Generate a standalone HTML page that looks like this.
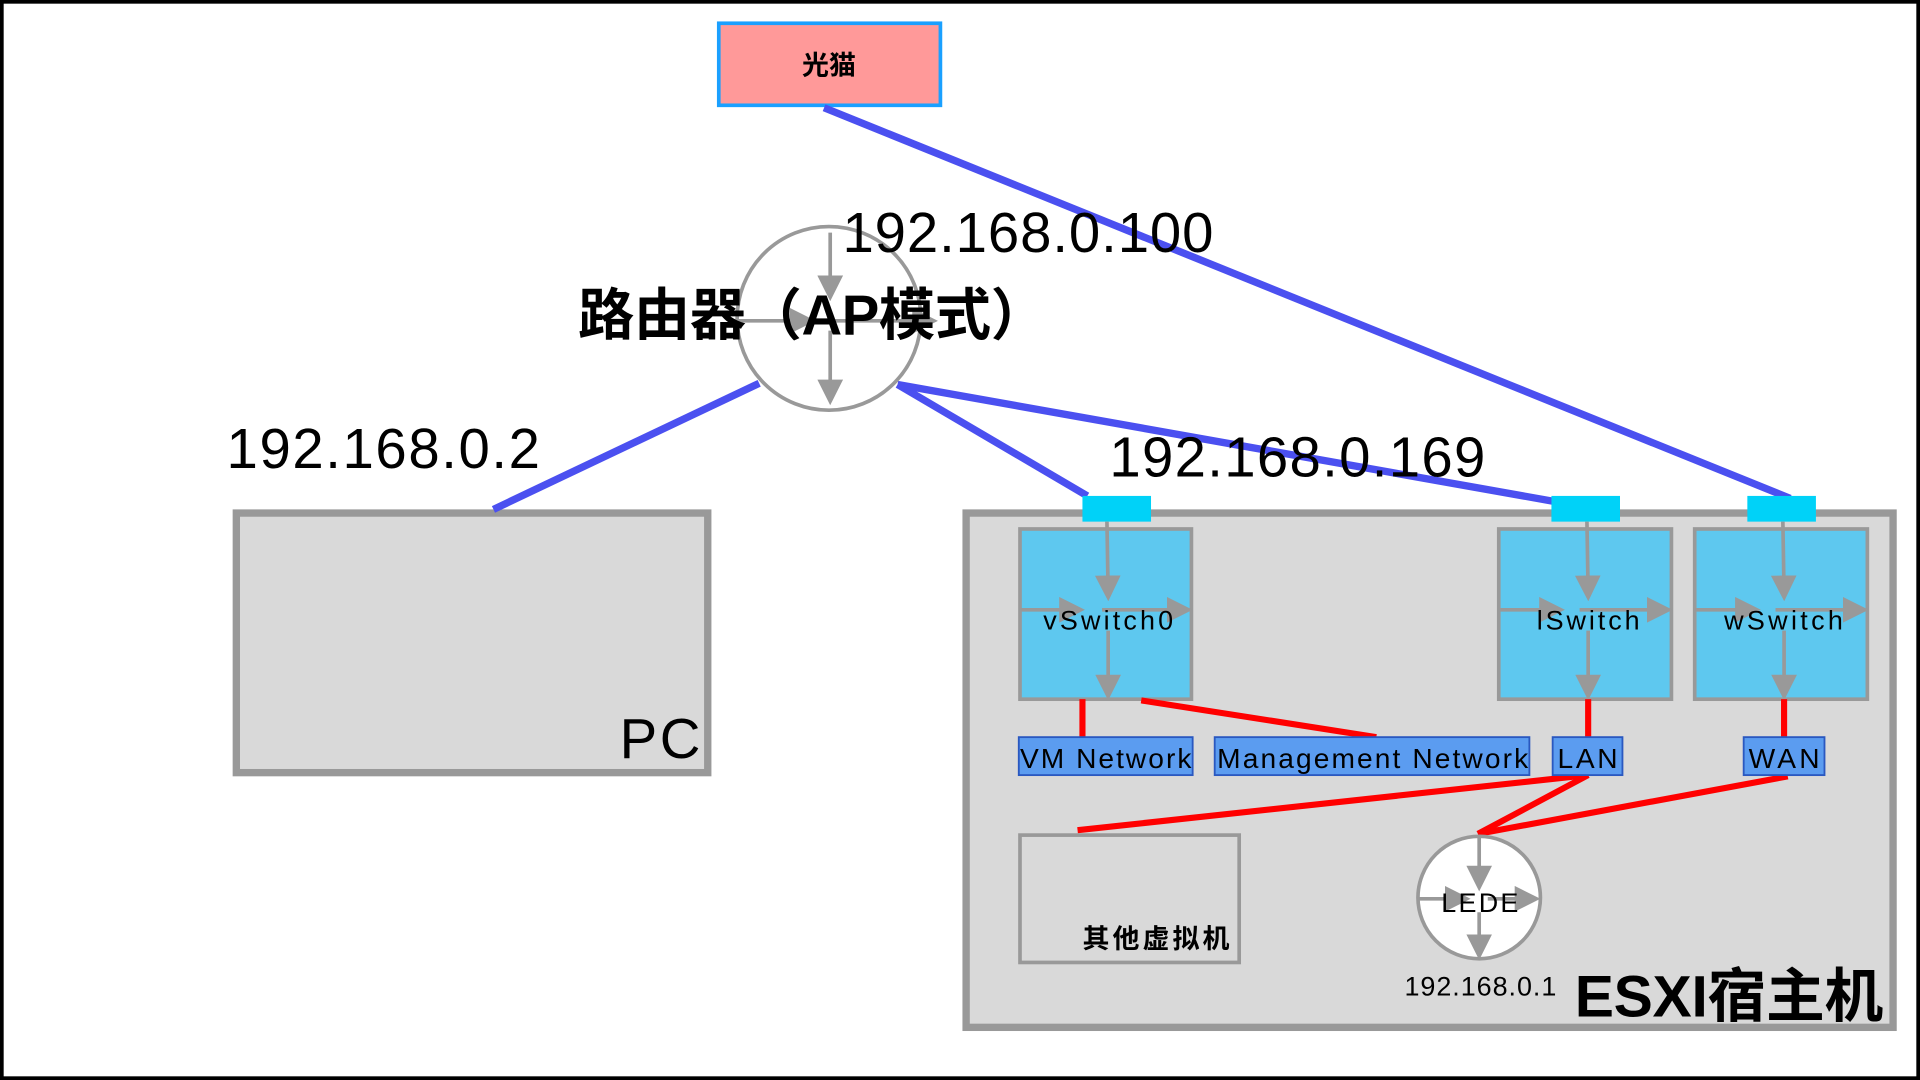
<!DOCTYPE html>
<html><head><meta charset="utf-8"><style>
html,body{margin:0;padding:0;background:#fff;}
svg{display:block;}
text{font-family:"Liberation Sans","Noto Sans CJK SC",sans-serif;fill:#000;}
</style></head><body>
<svg width="1920" height="1080" viewBox="0 0 1568 882" xmlns="http://www.w3.org/2000/svg">
<defs>
<marker id="ar" markerWidth="7" markerHeight="7" refX="5" refY="3.5" orient="auto" markerUnits="strokeWidth">
<path d="M0,0 L7,3.5 L0,7 z" fill="#999"/></marker>
</defs>
<rect x="1.5" y="1.5" width="1565" height="879" fill="#fff" stroke="#000" stroke-width="3"/>
<rect x="587" y="19" width="181" height="67" fill="#ff9999" stroke="#1aa0ff" stroke-width="3"/>
<text x="677" y="61" font-size="22" text-anchor="middle" font-weight="bold">光猫</text>
<rect x="193" y="419" width="385" height="212" fill="#d9d9d9" stroke="#999" stroke-width="6"/>
<text x="506" y="619" font-size="46" textLength="66">PC</text>
<rect x="789" y="419" width="757" height="420" fill="#d9d9d9" stroke="#999" stroke-width="6"/>
<g stroke="#4b50f0" stroke-width="6" fill="none">
<line x1="673" y1="88" x2="1462" y2="407"/>
<line x1="620" y1="313" x2="403" y2="416"/>
<line x1="733" y1="314" x2="888" y2="405"/>
<line x1="733" y1="314" x2="1300" y2="415"/>
</g>
<circle cx="677" cy="260" r="75" fill="#fff" stroke="#999" stroke-width="3"/>
<g stroke="#999" stroke-width="3" fill="none">
<line x1="678" y1="190" x2="678" y2="240" marker-end="url(#ar)"/>
<line x1="603" y1="262" x2="660" y2="262" marker-end="url(#ar)"/>
<line x1="680" y1="262" x2="760" y2="262" marker-end="url(#ar)"/>
<line x1="678" y1="270" x2="678" y2="325" marker-end="url(#ar)"/>
</g>
<text x="688" y="206" font-size="46" textLength="303">192.168.0.100</text>
<text x="472" y="273" font-size="46" font-weight="bold" textLength="383">路由器（AP模式）</text>
<text x="185" y="382" font-size="46" textLength="256">192.168.0.2</text>
<text x="906" y="389" font-size="46" textLength="307">192.168.0.169</text>
<g fill="#00d2f8">
<rect x="884" y="405" width="56" height="21"/>
<rect x="1267" y="405" width="56" height="21"/>
<rect x="1427" y="405" width="56" height="21"/>
</g>
<g fill="#5ec8ef" stroke="#999" stroke-width="3">
<rect x="833" y="432" width="140" height="139"/>
<rect x="1224" y="432" width="141" height="139"/>
<rect x="1384" y="432" width="141" height="139"/>
</g>
<g stroke="#999" stroke-width="3" fill="none">
<line x1="904" y1="426" x2="905" y2="485" marker-end="url(#ar)"/>
<line x1="834" y1="498" x2="880" y2="498" marker-end="url(#ar)"/>
<line x1="900" y1="498" x2="968" y2="498" marker-end="url(#ar)"/>
<line x1="905" y1="515" x2="905" y2="566" marker-end="url(#ar)"/>
<line x1="1296" y1="426" x2="1297" y2="485" marker-end="url(#ar)"/>
<line x1="1225" y1="498" x2="1272" y2="498" marker-end="url(#ar)"/>
<line x1="1290" y1="498" x2="1360" y2="498" marker-end="url(#ar)"/>
<line x1="1297" y1="515" x2="1297" y2="566" marker-end="url(#ar)"/>
<line x1="1456" y1="426" x2="1457" y2="485" marker-end="url(#ar)"/>
<line x1="1385" y1="498" x2="1432" y2="498" marker-end="url(#ar)"/>
<line x1="1450" y1="498" x2="1520" y2="498" marker-end="url(#ar)"/>
<line x1="1457" y1="515" x2="1457" y2="566" marker-end="url(#ar)"/>
</g>
<g font-size="22">
<text x="852" y="514" textLength="106">vSwitch0</text>
<text x="1255" y="514" textLength="84">lSwitch</text>
<text x="1408" y="514" textLength="97">wSwitch</text>
</g>
<g stroke="#ff0000" stroke-width="5" fill="none">
<line x1="884" y1="571" x2="884" y2="602"/>
<line x1="932" y1="572" x2="1124" y2="602"/>
<line x1="1297" y1="571" x2="1297" y2="602"/>
<line x1="1457" y1="571" x2="1457" y2="602"/>
<line x1="1297" y1="633" x2="880" y2="678"/>
<line x1="1297" y1="633" x2="1207" y2="681"/>
<line x1="1460" y1="634" x2="1207" y2="681"/>
</g>
<g fill="#5b9cf0" stroke="#2a58c0" stroke-width="1.5">
<rect x="832" y="602" width="142" height="31"/>
<rect x="992" y="602" width="257" height="31"/>
<rect x="1268" y="602" width="57" height="31"/>
<rect x="1424" y="602" width="66" height="31"/>
</g>
<g font-size="23">
<text x="833" y="627" textLength="140">VM Network</text>
<text x="994" y="627" textLength="254">Management Network</text>
<text x="1272" y="627" textLength="49">LAN</text>
<text x="1428" y="627" textLength="58">WAN</text>
</g>
<rect x="833" y="682" width="179" height="104" fill="#d9d9d9" stroke="#999" stroke-width="3"/>
<text x="884" y="774" font-size="22" font-weight="bold" textLength="120">其他虚拟机</text>
<circle cx="1208" cy="733" r="50" fill="#fff" stroke="#999" stroke-width="3"/>
<g stroke="#999" stroke-width="3" fill="none">
<line x1="1208" y1="684" x2="1208" y2="722" marker-end="url(#ar)"/>
<line x1="1159" y1="734" x2="1195" y2="734" marker-end="url(#ar)"/>
<line x1="1215" y1="734" x2="1252" y2="734" marker-end="url(#ar)"/>
<line x1="1208" y1="745" x2="1208" y2="778" marker-end="url(#ar)"/>
</g>
<text x="1177" y="745" font-size="22" textLength="63">LEDE</text>
<text x="1147" y="813" font-size="22" textLength="124">192.168.0.1</text>
<text x="1286" y="830" font-size="48" font-weight="bold" textLength="252">ESXI宿主机</text>
</svg>
</body></html>
